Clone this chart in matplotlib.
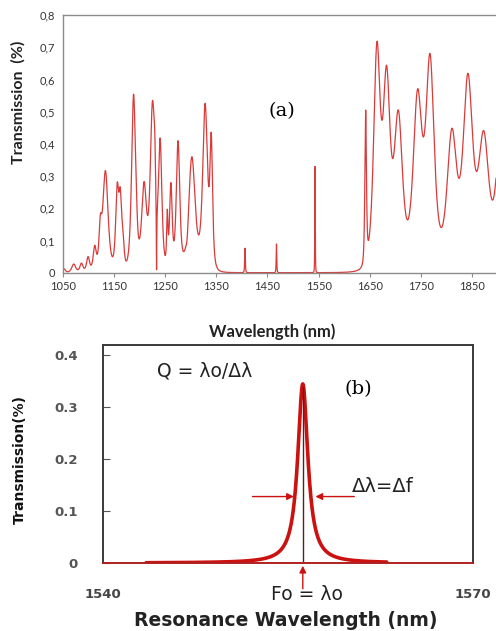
import numpy as np
import matplotlib
matplotlib.use("Agg")
import matplotlib.pyplot as plt
from matplotlib.ticker import FuncFormatter

# (a) transmission spectrum: resonance peaks (centre nm, peak transmission, fwhm nm)
peak_nm = [1052, 1071, 1086, 1099, 1112, 1123, 1133, 1156, 1162, 1167,
           1188, 1193, 1208.5, 1225, 1229.5, 1240, 1254, 1261, 1275, 1293,
           1302, 1328, 1340, 1406, 1467.6, 1543, 1642, 1664, 1683, 1706,
           1743.5, 1768, 1810.6, 1842, 1873, 1905]
peak_t = [0.012, 0.027, 0.030, 0.050, 0.085, 0.18, 0.317, 0.28, 0.265, 0.14,
          0.554, 0.30, 0.283, 0.536, 0.448, 0.42, 0.197, 0.28, 0.41, 0.11,
          0.36, 0.526, 0.435, 0.076, 0.089, 0.33, 0.505, 0.717, 0.644, 0.505,
          0.57, 0.68, 0.448, 0.619, 0.441, 0.40]
peak_w = [6, 9, 7, 7, 7, 6, 12, 7, 6, 6,
          9, 5, 11, 10, 4, 8, 3, 6, 8, 5,
          15, 11, 6, 1.5, 1.3, 1.0, 3.5, 15, 16, 19,
          20, 19, 22, 22, 24, 20]
# narrow anti-resonance dip
notch_nm = [1233]
notch_depth = [0.96]
notch_w = [1.0]

# (b) single resonance used for the Q factor
res_nm = 1556.2
res_t = 0.345
res_w = 1.0

a_xticks = [1050, 1150, 1250, 1350, 1450, 1550, 1650, 1750, 1850]
a_yticks = [0, 0.1, 0.2, 0.3, 0.4, 0.5, 0.6, 0.7, 0.8]
b_yticks = [0, 0.1, 0.2, 0.3, 0.4]
b_xticks = [1540, 1570]

K = np.sqrt(2) - 1


def lorentz(x, c, h, w):
    return h / (1 + (2 * (x - c) / w) ** 2)


def lorentz2(x, c, h, w):
    # squared Lorentzian, fwhm = w, faster fall-off in the stop band
    return h / (1 + K * (2 * (x - c) / w) ** 2) ** 2


c = np.array(peak_nm, float)
w = np.array(peak_w, float)
# amplitudes so that the summed curve passes through each peak value
A = lorentz2(c[:, None], c[None, :], 1.0, w[None, :])
amp = np.linalg.solve(A, np.array(peak_t))

x = np.linspace(1050, 1897, 16000)
spec = np.zeros_like(x)
for ci, ai, wi in zip(c, amp, w):
    spec += lorentz2(x, ci, ai, wi)
for cn, d, wn in zip(notch_nm, notch_depth, notch_w):
    spec *= 1 - lorentz(x, cn, d, wn)
spec = np.clip(spec, 0, None)

fig = plt.figure(figsize=(4.96, 6.31), dpi=100)

# ---- panel (a)
ax = fig.add_axes([63 / 496, 1 - 272.7 / 631, 1 - 63 / 496, (272.7 - 15) / 631])
ax.plot(x, spec, color="#d93b3b", lw=0.9)
ax.set_xlim(1050, 1897)
ax.set_ylim(0, 0.8)
ax.set_xticks(a_xticks)
ax.set_yticks(a_yticks)
ax.yaxis.set_major_formatter(FuncFormatter(lambda v, _: "0" if v == 0 else f"{v:.1f}".replace(".", ",")))
for s in ["top", "left", "bottom"]:
    ax.spines[s].set_color("#8c8c8c")
    ax.spines[s].set_linewidth(1.0)
ax.spines["right"].set_visible(False)
ax.tick_params(axis="x", length=3, color="#8c8c8c", labelsize=8, pad=3, labelcolor="#333333")
ax.tick_params(axis="y", length=0, labelsize=8, pad=6, labelcolor="#333333")
for t in ax.get_xticklabels() + ax.get_yticklabels():
    t.set_family("Lato")

fig.text(268 / 496, 1 - 111 / 631, "(a)", fontsize=14, family="DejaVu Serif", ha="left", va="center")
fig.text(18 / 496, 1 - 102 / 631, "Transmission  (%)", rotation=90, ha="center", va="center",
         fontsize=11.5, fontweight="bold", family="Lato", color="#222222")
fig.text(272 / 496, 1 - 332 / 631, "Wavelength (nm)", ha="center", va="center",
         fontsize=12, fontweight="bold", family="Lato", color="#222222")

# ---- panel (b)
bx = fig.add_axes([103 / 496, 1 - 563 / 631, 370 / 496, 218 / 631])
xb = np.linspace(1543.5, 1563, 4000)
bx.plot(xb, lorentz(xb, res_nm, res_t, res_w), color="#cc1111", lw=2.6, solid_capstyle="round")
bx.plot([res_nm, res_nm], [0, res_t - 0.005], color="#5a2020", lw=1.0)
bx.set_xlim(1540, 1570)
bx.set_ylim(0, 0.42)
bx.set_xticks(b_xticks)
bx.set_yticks(b_yticks)
bx.yaxis.set_major_formatter(FuncFormatter(lambda v, _: "0" if v == 0 else f"{v:.1f}"))
for s in bx.spines.values():
    s.set_color("#3a3a3a")
    s.set_linewidth(1.4)
bx.spines["bottom"].set_color("#b02020")
bx.tick_params(axis="y", direction="in", length=5, color="#555555", labelsize=9.5, pad=18, labelcolor="#555555")
bx.tick_params(axis="x", length=0, labelsize=9.5, pad=18, labelcolor="#444444")
for t in bx.get_xticklabels() + bx.get_yticklabels():
    t.set_fontweight("bold")

arrow = dict(arrowstyle="-|>", color="#cc1111", lw=1.0, mutation_scale=10)
half = 0.128
bx.annotate("", xy=(res_nm - 0.5, half), xytext=(res_nm - 4.3, half), arrowprops=arrow)
bx.annotate("", xy=(res_nm + 0.8, half), xytext=(res_nm + 4.4, half), arrowprops=arrow)
bx.annotate("", xy=(res_nm, 0), xytext=(res_nm, -0.055), arrowprops=arrow, annotation_clip=False)

bx.text(1544.4, 0.37, "Q = λo/Δλ", fontsize=13.5, ha="left", va="center", color="#222222")
bx.text(1560.2, 0.148, "Δλ=Δf", fontsize=14, ha="left", va="center", color="#222222")
fig.text(345 / 496, 1 - 389 / 631, "(b)", fontsize=14, family="DejaVu Serif", ha="left", va="center")
fig.text(307 / 496, 1 - 594 / 631, "Fo = λo", fontsize=13.5, ha="center", va="center", color="#222222")
fig.text(20 / 496, 1 - 460 / 631, "Transmission(%)", rotation=90, ha="center", va="center",
         fontsize=10, fontweight="bold", color="#111111")
fig.text(286 / 496, 1 - 620 / 631, "Resonance Wavelength (nm)", ha="center", va="center",
         fontsize=13.5, fontweight="bold", color="#222222")

fig.savefig("out.png", dpi=100)
